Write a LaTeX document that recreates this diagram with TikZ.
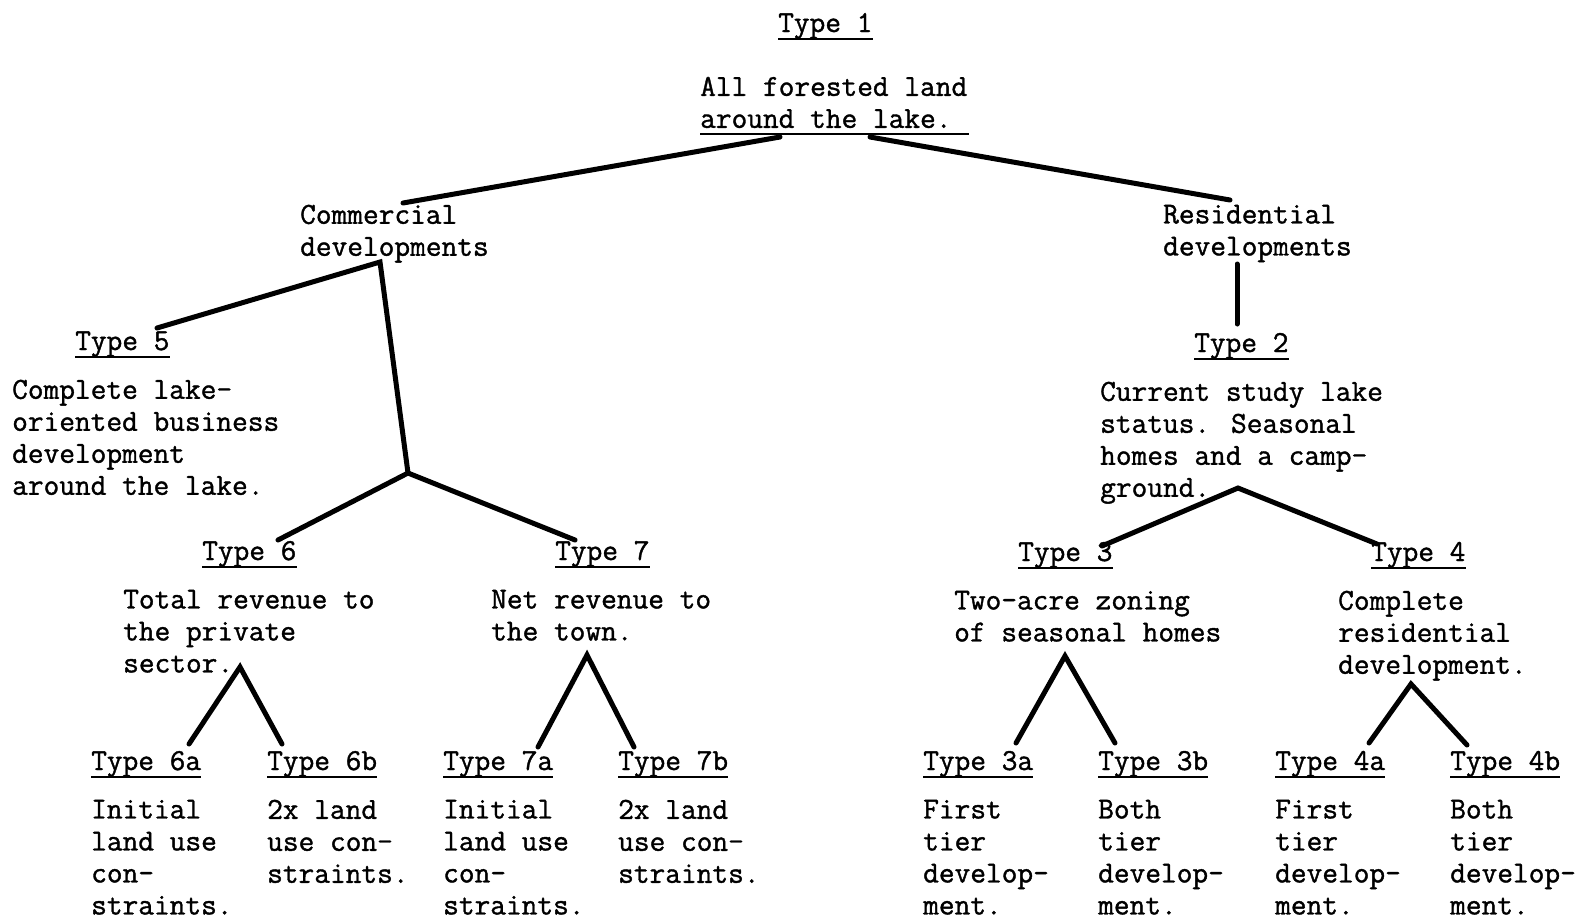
\documentclass[tikz,border=0pt]{standalone}
\usepackage{fontspec}
\usepackage{tikz}
\newfontfamily\tw{Latin Modern Mono}[FakeBold=1.2]
\tikzset{
  typ/.style={anchor=base west, inner sep=0pt, font=\fontsize{30.5}{32}\selectfont\tw},
  txt/.style={anchor=north west, inner sep=0pt, yshift=18.4pt, align=left,
    font=\fontsize{30.5}{32}\selectfont\tw, execute at begin node=\strut},
  bar/.style={line width=5pt, line cap=round},
  uline/.style={line width=1.6pt}
}

\begin{document}
\begin{tikzpicture}[x=1pt, y=-1pt]
			%%%%% START %%%%%
			\useasboundingbox (0,0) rectangle (1578,919);

			% top
			\node[typ] (h1) at (778,32) {Type 1};
			\node[txt] (d1) at (700,95) {All forested land\\around the lake.};
			\node[txt] (dcom) at (300,223) {Commercial\\developments};
			\node[txt] (dres) at (1163,223) {Residential\\developments};

			% commercial side
			\node[typ] (h5) at (75,350) {Type 5};
			\node[txt] (d5) at (12,398) {Complete lake-\\oriented business\\development\\around the lake.};
			\node[typ] (h6) at (202,560) {Type 6};
			\node[txt] (d6) at (123,608) {Total revenue to\\the private\\sector.};
			\node[typ] (h7) at (555,560) {Type 7};
			\node[txt] (d7) at (491,608) {Net revenue to\\the town.};

			% residential side
			\node[typ] (h2) at (1194,352) {Type 2};
			\node[txt] (d2) at (1100,400) {Current study lake\\status.  Seasonal\\homes and a camp-\\ground.};
			\node[typ] (h3) at (1018,561) {Type 3};
			\node[txt] (d3) at (954,609) {Two-acre zoning\\of seasonal homes};
			\node[typ] (h4) at (1371,561) {Type 4};
			\node[txt] (d4) at (1338,609) {Complete\\residential\\development.};

			% bottom row
			\node[typ] (h6a) at (91,770) {Type 6a};
			\node[txt] (d6a) at (91,818) {Initial\\land use\\con-\\straints.};
			\node[typ] (h6b) at (267,770) {Type 6b};
			\node[txt] (d6b) at (267,818) {2x land\\use con-\\straints.};
			\node[typ] (h7a) at (443,770) {Type 7a};
			\node[txt] (d7a) at (443,818) {Initial\\land use\\con-\\straints.};
			\node[typ] (h7b) at (618,770) {Type 7b};
			\node[txt] (d7b) at (618,818) {2x land\\use con-\\straints.};
			\node[typ] (h3a) at (923,770) {Type 3a};
			\node[txt] (d3a) at (923,818) {First\\tier\\develop-\\ment.};
			\node[typ] (h3b) at (1098,770) {Type 3b};
			\node[txt] (d3b) at (1098,818) {Both\\tier\\develop-\\ment.};
			\node[typ] (h4a) at (1275,770) {Type 4a};
			\node[txt] (d4a) at (1275,818) {First\\tier\\develop-\\ment.};
			\node[typ] (h4b) at (1450,770) {Type 4b};
			\node[txt] (d4b) at (1450,818) {Both\\tier\\develop-\\ment.};

			% underlines
			\foreach \n in {h1,h5,h2,h6,h7,h3,h4,h6a,h6b,h7a,h7b,h3a,h3b,h4a,h4b}
				\draw[uline] ([yshift=-7pt]\n.base west) -- ([yshift=-7pt]\n.base east);
			\draw[uline] (d1.west |- 0,134) -- ([xshift=2pt]d1.east |- 0,134);

			% branch points
			\coordinate (a1) at (780,137);
			\coordinate (a2) at (870,137);
			\coordinate (c1) at (403,203);
			\coordinate (r1) at (1230,200);
			\coordinate (c2) at (380,262);
			\coordinate (t5) at (157,328);
			\coordinate (j67) at (408,473);
			\coordinate (t6) at (278,540);
			\coordinate (t7) at (575,540);
			\coordinate (r2) at (1237,264);
			\coordinate (t2) at (1237,324);
			\coordinate (j34) at (1238,488);
			\coordinate (t3) at (1102,546);
			\coordinate (t4) at (1377,544);
			\coordinate (j6) at (240,667);
			\coordinate (t6a) at (189,744);
			\coordinate (t6b) at (282,744);
			\coordinate (j7) at (587,655);
			\coordinate (t7a) at (538,747);
			\coordinate (t7b) at (634,747);
			\coordinate (j3) at (1065,656);
			\coordinate (t3a) at (1016,743);
			\coordinate (t3b) at (1115,743);
			\coordinate (j4) at (1411,684);
			\coordinate (t4a) at (1369,743);
			\coordinate (t4b) at (1467,745);

			\draw[bar] (a1) -- (c1);
			\draw[bar] (a2) -- (r1);
			\draw[bar] (t5) -- (c2) -- (j67);
			\draw[bar] (t6) -- (j67) -- (t7);
			\draw[bar] (r2) -- (t2);
			\draw[bar] (t3) -- (j34) -- (t4);
			\draw[bar] (t6a) -- (j6) -- (t6b);
			\draw[bar] (t7a) -- (j7) -- (t7b);
			\draw[bar] (t3a) -- (j3) -- (t3b);
			\draw[bar] (t4a) -- (j4) -- (t4b);
			%%%%% END %%%%%
\end{tikzpicture}
\end{document}
